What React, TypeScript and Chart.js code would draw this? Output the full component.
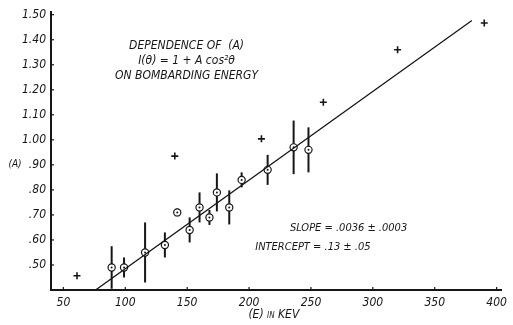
import React, { useEffect, useRef } from 'react';
import { Chart, registerables } from 'chart.js';

Chart.register(...registerables);

// Circles with error bars
const energyCircle = [89, 99, 116, 132, 142, 152, 160, 168, 174, 184, 194, 215, 236, 248];
const aCircle = [0.49, 0.49, 0.55, 0.58, 0.71, 0.64, 0.73, 0.69, 0.79, 0.73, 0.84, 0.88, 0.97, 0.96];
const aError = [0.085, 0.04, 0.12, 0.05, 0.015, 0.05, 0.06, 0.03, 0.076, 0.068, 0.03, 0.06, 0.107, 0.09];

// Cross markers
const energyPlus = [61, 140, 210, 260, 320, 390];
const aPlus = [0.457, 0.935, 1.004, 1.15, 1.36, 1.467];

// Fitted line
const fitEnergy = [76, 380];
const fitA = [0.40, 1.477];

// Axis ticks
const xTickValues = [50, 100, 150, 200, 250, 300, 350, 400];
const yTickValues = [0.5, 0.6, 0.7, 0.8, 0.9, 1.0, 1.1, 1.2, 1.3, 1.4, 1.5];

const titleLines = ['DEPENDENCE OF  (A)', 'I(\u03B8) = 1 + A cos\u00B2\u03B8', 'ON BOMBARDING ENERGY'];
const fitLines = ['SLOPE = .0036 \u00B1 .0003', 'INTERCEPT = .13 \u00B1 .05'];

const FONT = "'Liberation Sans Narrow', 'DejaVu Sans Condensed', 'Liberation Sans', sans-serif";
const INK = '#161616';

const fmtY = (v: number) => {
  const s = v.toFixed(2);
  return s.startsWith('0') ? s.slice(1) : s;
};

const extrasPlugin = {
  id: 'extras',
  beforeDatasetsDraw(chart: any) {
    const ctx = chart.ctx;
    const xs = chart.scales.x;
    const ys = chart.scales.y;
    const ca = chart.chartArea;
    ctx.save();
    ctx.strokeStyle = INK;
    // error bars
    ctx.lineWidth = 2;
    energyCircle.forEach((e, i) => {
      const x = xs.getPixelForValue(e);
      const y1 = ys.getPixelForValue(Math.max(0.4, aCircle[i] - aError[i]));
      const y2 = ys.getPixelForValue(aCircle[i] + aError[i]);
      ctx.beginPath();
      ctx.moveTo(x, y1);
      ctx.lineTo(x, y2);
      ctx.stroke();
    });
    // inward tick marks
    ctx.lineWidth = 1.2;
    yTickValues.forEach((v) => {
      const y = ys.getPixelForValue(v);
      ctx.beginPath();
      ctx.moveTo(ca.left, y);
      ctx.lineTo(ca.left + 3, y);
      ctx.stroke();
    });
    xTickValues.forEach((v) => {
      const x = xs.getPixelForValue(v);
      ctx.beginPath();
      ctx.moveTo(x, ca.bottom);
      ctx.lineTo(x, ca.bottom - 3);
      ctx.stroke();
    });
    ctx.restore();
  },
  afterDatasetsDraw(chart: any) {
    const ctx = chart.ctx;
    const xs = chart.scales.x;
    const ys = chart.scales.y;
    ctx.save();
    ctx.fillStyle = INK;
    energyCircle.forEach((e, i) => {
      const x = xs.getPixelForValue(e);
      const y = ys.getPixelForValue(aCircle[i]);
      ctx.beginPath();
      ctx.arc(x, y, 1, 0, Math.PI * 2);
      ctx.fill();
    });
    // annotation text
    ctx.textBaseline = 'middle';
    ctx.textAlign = 'center';
    ctx.font = `italic 12px ${FONT}`;
    const tx = xs.getPixelForValue(149.5);
    titleLines.forEach((t, i) => {
      ctx.fillText(t, tx, ys.getPixelForValue(1.374 - i * 0.06));
    });
    ctx.font = `italic 11px ${FONT}`;
    ctx.textAlign = 'left';
    ctx.fillText(fitLines[0], xs.getPixelForValue(233), ys.getPixelForValue(0.647));
    ctx.fillText(fitLines[1], xs.getPixelForValue(205), ys.getPixelForValue(0.572));
    // y axis label
    ctx.font = `italic 10px ${FONT}`;
    ctx.textAlign = 'center';
    ctx.fillText('(A)', 15, ys.getPixelForValue(0.9));
    // x axis title with small "IN"
    const cx = xs.getPixelForValue(220);
    const cy = 315;
    const p1 = '(E) ';
    const p2 = 'IN';
    const p3 = ' KEV';
    ctx.font = `italic 12px ${FONT}`;
    const w1 = ctx.measureText(p1).width;
    const w3 = ctx.measureText(p3).width;
    ctx.font = `italic 8px ${FONT}`;
    const w2 = ctx.measureText(p2).width;
    const x0 = cx - (w1 + w2 + w3) / 2;
    ctx.textAlign = 'left';
    ctx.font = `italic 12px ${FONT}`;
    ctx.fillText(p1, x0, cy);
    ctx.font = `italic 8px ${FONT}`;
    ctx.fillText(p2, x0 + w1, cy + 1);
    ctx.font = `italic 12px ${FONT}`;
    ctx.fillText(p3, x0 + w1 + w2, cy);
    ctx.restore();
  },
};

export default function App() {
  const ref = useRef<HTMLCanvasElement | null>(null);

  useEffect(() => {
    document.body.style.margin = '0';
    document.body.style.overflow = 'hidden';
    document.body.style.background = '#fff';
    const canvas = ref.current;
    if (!canvas) return;
    const chart = new Chart(canvas, {
      type: 'scatter',
      data: {
        datasets: [
          {
            type: 'line',
            data: fitEnergy.map((e, i) => ({ x: e, y: fitA[i] })),
            borderColor: INK,
            borderWidth: 1.3,
            pointRadius: 0,
            fill: false,
          },
          {
            data: energyCircle.map((e, i) => ({ x: e, y: aCircle[i] })),
            pointStyle: 'circle',
            pointRadius: 3.6,
            pointBorderWidth: 1.2,
            pointBackgroundColor: '#fff',
            pointBorderColor: INK,
          },
          {
            data: energyPlus.map((e, i) => ({ x: e, y: aPlus[i] })),
            pointStyle: 'cross',
            pointRadius: 3.5,
            pointBorderWidth: 1.6,
            pointBorderColor: INK,
            pointBackgroundColor: INK,
          },
        ] as any,
      },
      options: {
        animation: false,
        responsive: false,
        devicePixelRatio: 1,
        layout: { padding: { left: 0, top: 12, right: 3, bottom: 0 } },
        plugins: { legend: { display: false }, tooltip: { enabled: false } },
        scales: {
          x: {
            type: 'linear',
            min: 40,
            max: 404,
            grid: { display: false, drawTicks: false },
            border: { display: true, color: INK, width: 2 },
            afterBuildTicks: (s: any) => {
              s.ticks = xTickValues.map((v) => ({ value: v }));
            },
            afterFit: (s: any) => {
              s.height = 35;
            },
            ticks: {
              color: INK,
              padding: 6,
              maxRotation: 0,
              autoSkip: false,
              font: { family: FONT, size: 12, style: 'italic' },
              callback: (v: any) => String(v),
            },
          },
          y: {
            type: 'linear',
            min: 0.4,
            max: 1.51,
            grid: { display: false, drawTicks: false },
            border: { display: true, color: INK, width: 2 },
            afterBuildTicks: (s: any) => {
              s.ticks = yTickValues.map((v) => ({ value: v }));
            },
            afterFit: (s: any) => {
              s.width = 51;
            },
            ticks: {
              color: INK,
              padding: 5,
              autoSkip: false,
              font: { family: FONT, size: 12, style: 'italic' },
              callback: (v: any) => fmtY(Number(v)),
            },
          },
        },
      } as any,
      plugins: [extrasPlugin],
    });
    return () => chart.destroy();
  }, []);

  return (
    <div style={{ width: 513, height: 325, background: '#fff' }}>
      <canvas ref={ref} width={513} height={325} style={{ display: 'block', width: 513, height: 325 }} />
    </div>
  );
}
